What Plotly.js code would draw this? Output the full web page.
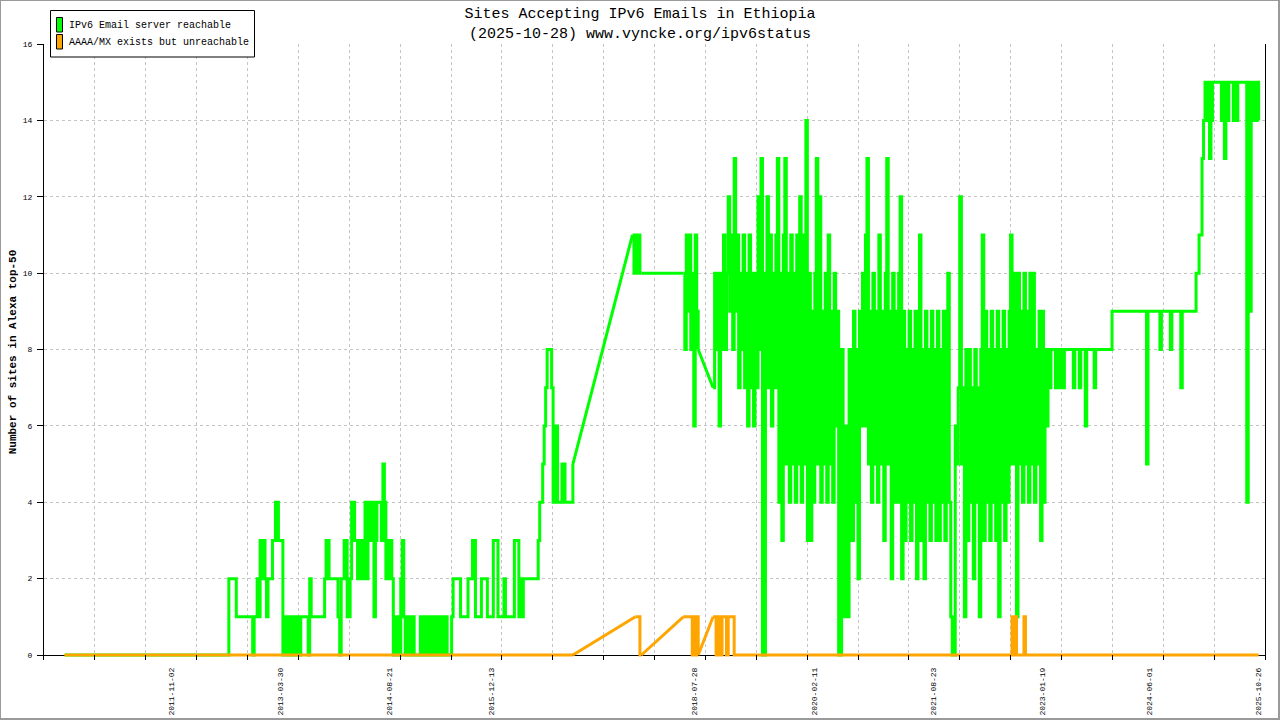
<!DOCTYPE html>
<html>
<head>
<meta charset="utf-8">
<script src="https://cdn.plot.ly/plotly-3.0.1.min.js"></script>
<style>
html,body{margin:0;padding:0;background:#fff;}
#wrap{position:relative;width:1280px;height:720px;}
#chart{width:1280px;height:720px;}
#frame{position:absolute;left:0;top:0;width:1280px;height:720px;box-sizing:border-box;border:1px solid #9a9a9a;border-right-width:2px;border-bottom-width:2px;pointer-events:none;}
</style>
</head>
<body>
<div id="wrap"><div id="chart"></div><div id="frame"></div></div>
<script>
// ---------------- DATA (weekly readings, week 0 = 1 January of each year; null = no data) ----------------
const SAMPLE_STEP_DAYS = 7;
const years = [2010,2011,2012,2013,2014,2015,2016,2017,2018,2019,2020,2021,2022,2023,2024,2025];

// IPv6 Email server reachable
const green2010 = [null,null,null,null,null,null,null,null,null,null,null,null,null,null,null,null,null,null,null,null,null,null,null,null,
  0,0,0,0,0,0,0, 0,0,0,0,0,0,0, 0,0,0,0,0,0,0, 0,0,0,0,0,0,0];
const green2011 = [0,0,0,0,0,0,0,0,0,0, 0,0,0,0,0,0,0,0,0,0, 0,0,0,0,0,0,0,0,0,0, 0,0,0,0,0,0,0,0,0,0, 0,0,0,0,0,0,0,0,0,0, 0,0];
const green2012 = [0,0,0,0,0,0,0,0,0,0, 0,0,0,0,0,0,0,0,0,0, 0,0,0,0,0,0,0,0,0,0, 2,2,2,2,2,1,1,1,1,1, 1,1,1,1,1,1,0,1,1,2, 1,3];
const green2013 = [2,3,2,1,2,2,2,3,3,4, 4,3,3,3,0,1,0,1,0,1, 0,1,0,1,1,0,1,1,1,1, 1,0,2,1,1,1,1,1,1,1, 1,1,2,3,3,2,2,2,2,2, 2,1];
const green2014 = [0,2,2,3,3,1,1,2,4,4, 3,3,2,3,2,3,2,4,2,4, 3,4,4,1,3,4,4,4,3,5, 4,2,3,2,3,2,0,1,0,1, 0,2,3,1,0,1,0,1,0,1, 0,0];
const green2015 = [0,0,1,0,1,0,1,0,1,0, 0,1,0,1,0,1,0,1,0,1, 0,0,0,1,2,2,2,2,2,1, 1,1,1,1,2,2,2,3,3,1, 1,1,1,2,2,2,2,1,1,1, 1,3];
const green2016 = [3,3,1,1,1,1,2,1,1,1, 1,1,1,3,3,3,1,2,1,2, 2,2,2,2,2,2,2,2,2,3, 4,4,5,6,7,8,8,8,7,4, 5,6,4,4,4,5,5,4,4,4, 4,4];
const green2017 = [5,null,null,null,null,null,null,null,null,null, null,null,null,null,null,null,null,null,null,null, null,null,null,null,null,null,null,null,null,null, null,null,null,null,null,null,null,null,null,null, 11,10,11,10,11,10,10,null,null,null, null,null];
const green2018 = [null,null,null,null,null,null,null,null,null,null, null,null,null,null,null,null,null,null,null,null, null,null,10,8,11,9,11,8,10,6, 11,9,8,null,null,null,null,null,null,null, null,null,7,10,8,10,6,10,8,11, 8,10];
const green2019 = [12,9,11,8,13,9,11,7,10,8, 11,7,10,6,11,7,10,6,10,7, 12,8,13,0,0,10,12,7,11,6, 10,7,11,13,4,10,3,11,13,5, 10,4,11,5,10,4,11,5,12,4, 11,5];
const green2020 = [14,3,10,3,9,4,10,13,5,12, 4,9,5,10,4,11,5,9,4,10, 6,9,0,0,8,1,1,6,1,8, 4,3,9,4,8,2,9,6,10,6, 11,13,5,9,4,10,5,9,4,11, 5,9];
const green2021 = [3,10,13,5,9,2,10,4,9,4, 10,12,2,9,3,8,4,9,3,8, 4,9,2,8,11,3,8,2,9,4, 8,3,9,4,8,3,9,3,8,4, 9,3,8,10,4,1,0,0,6,5, 7,12];
const green2022 = [5,7,1,8,3,8,4,7,2,8, 4,7,1,8,11,3,9,4,8,3, 9,4,8,3,9,1,8,4,9,3, 8,4,9,11,5,9,10,1,10,5, 9,4,10,5,9,4,10,5,10,4, 8,5];
const green2023 = [9,3,9,4,8,6,8,7,8,8, 8,7,8,8,7,8,7,8,8,8, 8,8,8,7,8,8,8,7,8,8, 8,6,8,8,8,8,8,7,8,8, 8,8,8,8,8,8,8,8,8,9, 9,9];
const green2024 = [9,9,9,9,9,9,9,9,9,9, 9,9,9,9,9,9,9,9,9,9, 5,9,9,9,9,9,9,9,9,8, 9,9,9,9,9,9,8,9,9,9, 9,9,9,7,9,9,9,9,9,9, 9,9];
const green2025 = [9,10,10,11,11,13,14,15,14,15, 13,14,15,15,15,15,15,15,14,15, 13,15,14,15,15,15,14,15,14,15, 15,15,15,15,15,4,15,9,15,14, 15,14,15,14];

// AAAA/MX exists but unreachable
const orange2010 = [null,null,null,null,null,null,null,null,null,null,null,null,null,null,null,null,null,null,null,null,null,null,null,null,
  0,0,0,0,0,0,0, 0,0,0,0,0,0,0, 0,0,0,0,0,0,0, 0,0,0,0,0,0,0];
const orange2011 = [0,0,0,0,0,0,0,0,0,0, 0,0,0,0,0,0,0,0,0,0, 0,0,0,0,0,0,0,0,0,0, 0,0,0,0,0,0,0,0,0,0, 0,0,0,0,0,0,0,0,0,0, 0,0];
const orange2012 = [0,0,0,0,0,0,0,0,0,0, 0,0,0,0,0,0,0,0,0,0, 0,0,0,0,0,0,0,0,0,0, 0,0,0,0,0,0,0,0,0,0, 0,0,0,0,0,0,0,0,0,0, 0,0];
const orange2013 = [0,0,0,0,0,0,0,0,0,0, 0,0,0,0,0,0,0,0,0,0, 0,0,0,0,0,0,0,0,0,0, 0,0,0,0,0,0,0,0,0,0, 0,0,0,0,0,0,0,0,0,0, 0,0];
const orange2014 = [0,0,0,0,0,0,0,0,0,0, 0,0,0,0,0,0,0,0,0,0, 0,0,0,0,0,0,0,0,0,0, 0,0,0,0,0,0,0,0,0,0, 0,0,0,0,0,0,0,0,0,0, 0,0];
const orange2015 = [0,0,0,0,0,0,0,0,0,0, 0,0,0,0,0,0,0,0,0,0, 0,0,0,0,0,0,0,0,0,0, 0,0,0,0,0,0,0,0,0,0, 0,0,0,0,0,0,0,0,0,0, 0,0];
const orange2016 = [0,0,0,0,0,0,0,0,0,0, 0,0,0,0,0,0,0,0,0,0, 0,0,0,0,0,0,0,0,0,0, 0,0,0,0,0,0,0,0,0,0, 0,0,0,0,0,0,0,0,0,0, 0,0];
const orange2017 = [0,null,null,null,null,null,null,null,null,null, null,null,null,null,null,null,null,null,null,null, null,null,null,null,null,null,null,null,null,null, null,null,null,null,null,null,null,null,null,null, null,null,1,1,1,0,0,null,null,null, null,null];
const orange2018 = [null,null,null,null,null,null,null,null,null,null, null,null,null,null,null,null,null,null,null,null, null,null,1,1,1,1,1,1,0,1, 0,1,0,null,null,null,null,null,null,null, null,null,1,1,0,1,1,0,1,1, 1,0];
const orange2019 = [1,1,1,1,0,0,0,0,0,0, 0,0,0,0,0,0,0,0,0,0, 0,0,0,0,0,0,0,0,0,0, 0,0,0,0,0,0,0,0,0,0, 0,0,0,0,0,0,0,0,0,0, 0,0];
const orange2020 = [0,0,0,0,0,0,0,0,0,0, 0,0,0,0,0,0,0,0,0,0, 0,0,0,0,0,0,0,0,0,0, 0,0,0,0,0,0,0,0,0,0, 0,0,0,0,0,0,0,0,0,0, 0,0];
const orange2021 = [0,0,0,0,0,0,0,0,0,0, 0,0,0,0,0,0,0,0,0,0, 0,0,0,0,0,0,0,0,0,0, 0,0,0,0,0,0,0,0,0,0, 0,0,0,0,0,0,0,0,0,0, 0,0];
const orange2022 = [0,0,0,0,0,0,0,0,0,0, 0,0,0,0,0,0,0,0,0,0, 0,0,0,0,0,0,0,0,0,0, 0,0,0,0,1,0,1,0,0,0, 0,0,1,0,0,0,0,0,0,0, 0,0];
const orange2023 = [0,0,0,0,0,0,0,0,0,0, 0,0,0,0,0,0,0,0,0,0, 0,0,0,0,0,0,0,0,0,0, 0,0,0,0,0,0,0,0,0,0, 0,0,0,0,0,0,0,0,0,0, 0,0];
const orange2024 = [0,0,0,0,0,0,0,0,0,0, 0,0,0,0,0,0,0,0,0,0, 0,0,0,0,0,0,0,0,0,0, 0,0,0,0,0,0,0,0,0,0, 0,0,0,0,0,0,0,0,0,0, 0,0];
const orange2025 = [0,0,0,0,0,0,0,0,0,0, 0,0,0,0,0,0,0,0,0,0, 0,0,0,0,0,0,0,0,0,0, 0,0,0,0,0,0,0,0,0,0, 0,0,0,0];

// x-axis labels
const tickLabels = ['2011-11-02','2013-03-30','2014-08-21','2015-12-13','2018-07-28','2020-02-11','2021-08-23','2023-01-19','2024-06-01','2025-10-26'];
const yTicks = [0,2,4,6,8,10,12,14,16];

const seriesNames = ['IPv6 Email server reachable','AAAA/MX exists but unreachable'];
const seriesColors = ['#00ff00','#ffa500'];

// ---------------- BUILD ----------------
const greenYears = [green2010,green2011,green2012,green2013,green2014,green2015,green2016,green2017,green2018,green2019,green2020,green2021,green2022,green2023,green2024,green2025];
const orangeYears = [orange2010,orange2011,orange2012,orange2013,orange2014,orange2015,orange2016,orange2017,orange2018,orange2019,orange2020,orange2021,orange2022,orange2023,orange2024,orange2025];

function weekDates(year, n){
  const out = [];
  const t0 = Date.UTC(year,0,1);
  for (let i=0;i<n;i++) out.push(new Date(t0 + i*SAMPLE_STEP_DAYS*864e5).toISOString().slice(0,10));
  return out;
}
function flatten(list){
  const xs=[], ys=[];
  list.forEach((vals,k)=>{ const d = weekDates(years[k], vals.length); for(let i=0;i<vals.length;i++){ xs.push(d[i]); ys.push(vals[i]); } });
  return {xs, ys};
}
// straight connectors across the data gaps (last reading before gap -> first reading after)
function gapLinks(s){
  const xs=[], ys=[]; let last=-1, inGap=false;
  for(let i=0;i<s.ys.length;i++){
    if(s.ys[i]===null){ if(last>=0) inGap=true; continue; }
    if(inGap){ xs.push(s.xs[last], s.xs[i], null); ys.push(s.ys[last], s.ys[i], null); inGap=false; }
    last=i;
  }
  return {xs, ys};
}
const G = flatten(greenYears), O = flatten(orangeYears);
const Gg = gapLinks(G), Og = gapLinks(O);

const xStartMs = Date.UTC(2010,2,13,5), xEndMs = Date.UTC(2025,10,27,21);
const xRange = [new Date(xStartMs).toISOString(), new Date(xEndMs).toISOString()];
const gridTick = (xEndMs - xStartMs)/24;

const L=44, R=15, T=44, B=60, W=1280, H=720;
const PW = W-L-R, PH = H-T-B;
const px = v => (v-L)/PW;
const py = v => (H-B-v)/PH;

const mono = 'Liberation Mono, DejaVu Sans Mono, monospace';
const LW = 3;

const traces = [
  {type:'scatter', mode:'lines', x:G.xs, y:G.ys, name:seriesNames[0], connectgaps:false,
   line:{color:seriesColors[0], width:LW, shape:'hv', simplify:false}, xaxis:'x', yaxis:'y', hoverinfo:'skip'},
  {type:'scatter', mode:'lines', x:Gg.xs, y:Gg.ys, name:seriesNames[0], connectgaps:false, showlegend:false,
   line:{color:seriesColors[0], width:LW, simplify:false}, xaxis:'x', yaxis:'y', hoverinfo:'skip'},
  {type:'scatter', mode:'lines', x:O.xs, y:O.ys, name:seriesNames[1], connectgaps:false,
   line:{color:seriesColors[1], width:LW, shape:'hv', simplify:false}, xaxis:'x2', yaxis:'y', hoverinfo:'skip'},
  {type:'scatter', mode:'lines', x:Og.xs, y:Og.ys, name:seriesNames[1], connectgaps:false, showlegend:false,
   line:{color:seriesColors[1], width:LW, simplify:false}, xaxis:'x2', yaxis:'y', hoverinfo:'skip'}
];

const gridCol = '#c4c4c4';
const layout = {
  width:W, height:H, margin:{l:L,r:R,t:T,b:B,pad:0},
  paper_bgcolor:'#fff', plot_bgcolor:'#fff', showlegend:false,
  font:{family:mono, color:'#000', size:10},
  title:{text:'Sites Accepting IPv6 Emails in Ethiopia<br>(2025-10-28) www.vyncke.org/ipv6status',
         font:{family:mono, size:15, color:'#000'}, x:0.5, xref:'container', xanchor:'center',
         y:1-18/H, yref:'container', yanchor:'top'},
  xaxis:{type:'date', range:xRange, tickmode:'linear', tick0:xRange[0], dtick:gridTick,
         ticks:'inside', ticklen:5, tickwidth:1, tickcolor:'#000', showticklabels:false,
         showgrid:true, gridcolor:gridCol, griddash:'3px,3px', gridwidth:1,
         zeroline:false, showline:false, fixedrange:true},
  xaxis2:{type:'date', overlaying:'x', anchor:'y', side:'bottom', range:xRange,
          tickmode:'array', tickvals:tickLabels, ticktext:tickLabels, tickangle:-90,
          ticks:'', ticklabelstandoff:5, showgrid:false, zeroline:false, showline:false,
          tickfont:{family:mono, size:8, color:'#000'}, fixedrange:true},
  yaxis:{range:[-5/((H-B-5-T)/16), 16], tickmode:'array', tickvals:yTicks, ticktext:yTicks.map(String),
         ticks:'outside', ticklen:6, tickwidth:1, tickcolor:'#000', ticklabelstandoff:3,
         showline:true, linecolor:'#000', linewidth:1, mirror:true,
         showgrid:true, gridcolor:gridCol, griddash:'3px,3px', gridwidth:1,
         zeroline:true, zerolinecolor:'#000', zerolinewidth:1,
         tickfont:{family:mono, size:8, color:'#000'}, fixedrange:true,
         title:{text:'Number of sites in Alexa top-50', font:{family:mono, size:11, weight:'bold', color:'#000'}, standoff:3}},
  shapes:[
    {type:'rect', xref:'paper', yref:'paper', x0:px(50.5), x1:px(254.5), y0:py(57), y1:py(10.5),
     line:{color:'#000', width:1}, fillcolor:'#fff', layer:'above'},
    {type:'rect', xref:'paper', yref:'paper', x0:px(56.5), x1:px(62.5), y0:py(32), y1:py(17.5),
     line:{color:'#000', width:1}, fillcolor:seriesColors[0], layer:'above'},
    {type:'rect', xref:'paper', yref:'paper', x0:px(56.5), x1:px(62.5), y0:py(49), y1:py(34.5),
     line:{color:'#000', width:1}, fillcolor:seriesColors[1], layer:'above'}
  ],
  annotations:[
    {xref:'paper', yref:'paper', x:px(67), y:py(25.5), xanchor:'left', yanchor:'middle', showarrow:false,
     text:seriesNames[0], font:{family:mono, size:10, color:'#000'}},
    {xref:'paper', yref:'paper', x:px(67), y:py(42.5), xanchor:'left', yanchor:'middle', showarrow:false,
     text:seriesNames[1], font:{family:mono, size:10, color:'#000'}}
  ]
};

Plotly.newPlot('chart', traces, layout, {displayModeBar:false, staticPlot:true});
</script>
</body>
</html>
